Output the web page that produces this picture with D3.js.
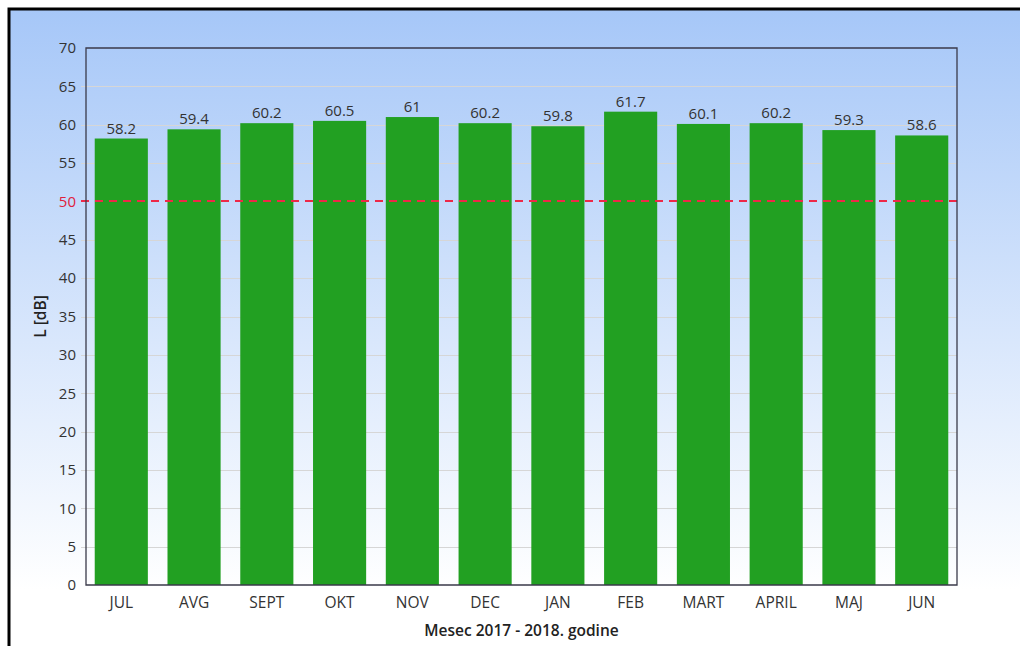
<!DOCTYPE html>
<html><head><meta charset="utf-8">
<script src="https://cdn.jsdelivr.net/npm/d3@7"></script>
<style>body{margin:0;background:#fff;}svg{display:block;font-family:"Open Sans",sans-serif;}</style>
</head><body><svg id="c" width="1020" height="646"></svg>
<script>
const categories = ["JUL","AVG","SEPT","OKT","NOV","DEC","JAN","FEB","MART","APRIL","MAJ","JUN"];
const values = [58.2,59.4,60.2,60.5,61,60.2,59.8,61.7,60.1,60.2,59.3,58.6];
const yTicks = [0,5,10,15,20,25,30,35,40,45,50,55,60,65,70];
const limitValue = 50;
const xTitle = "Mesec 2017 - 2018. godine";
const yTitle = "L [dB]";

const svg = d3.select("#c");
const defs = svg.append("defs");
const g1 = defs.append("linearGradient").attr("id","bg").attr("x1",0).attr("y1",0).attr("x2",0).attr("y2",1);
g1.append("stop").attr("offset","0%").attr("stop-color","#a6c7f8");
g1.append("stop").attr("offset","88%").attr("stop-color","#ffffff");
svg.append("rect").attr("x",0).attr("y",0).attr("width",1020).attr("height",646).attr("fill","#fff");
svg.append("rect").attr("x",9).attr("y",9).attr("width",1030).attr("height",660).attr("fill","url(#bg)")
  .attr("stroke","#000").attr("stroke-width",3);

const m = {l:86, t:48, r:957, b:585};
const x = d3.scaleBand().domain(categories).range([m.l,m.r]).paddingInner(0.27).paddingOuter(0.12);
const y = d3.scaleLinear().domain([0,70]).range([m.b,m.t]);

// gridlines
svg.append("g").selectAll("line").data(yTicks.filter(d=>d>0&&d<70)).join("line")
  .attr("x1",m.l-5).attr("x2",m.r).attr("y1",d=>Math.round(y(d))+0.5).attr("y2",d=>Math.round(y(d))+0.5)
  .attr("stroke",d=>d===limitValue?"none":"#d6d6d6").attr("stroke-width",1);

// bars
svg.append("g").selectAll("rect").data(values).join("rect")
  .attr("x",(d,i)=>x(categories[i])).attr("width",x.bandwidth())
  .attr("y",d=>y(d)).attr("height",d=>y(0)-y(d)).attr("fill","#22a022");

// limit line
svg.append("line").attr("x1",m.l-5).attr("x2",m.r)
  .attr("y1",Math.round(y(limitValue))).attr("y2",Math.round(y(limitValue)))
  .attr("stroke","#ee2848").attr("stroke-width",1.8)
  .attr("stroke-dasharray","8,6");

// value labels
svg.append("g").selectAll("text").data(values).join("text")
  .attr("x",(d,i)=>x(categories[i])+x.bandwidth()/2).attr("y",d=>y(d)-5)
  .attr("text-anchor","middle").attr("font-size",15).attr("fill","#333")
  .text(d=>d);

// plot frame
svg.append("path").attr("d",`M${m.l},${m.t}H${m.r}V${m.b}H${m.l}Z`).attr("fill","none")
  .attr("stroke","#3a3a4a").attr("stroke-width",1.3);

// y axis
const yAxis = d3.axisLeft(y).tickValues(yTicks).tickSize(0).tickPadding(10);
const ya = svg.append("g").attr("transform",`translate(${m.l},0)`).call(yAxis);
ya.select(".domain").remove();
ya.selectAll("text").attr("font-size",15).attr("font-family","Open Sans, sans-serif")
  .attr("fill",d=>d===limitValue?"#e0203c":"#333");

// x axis
const xAxis = d3.axisBottom(x).tickSize(0).tickPadding(12);
const xa = svg.append("g").attr("transform",`translate(0,${m.b})`).call(xAxis);
xa.select(".domain").remove();
xa.selectAll("text").attr("font-size",15.5).attr("font-family","Open Sans, sans-serif").attr("fill","#333");

// titles
svg.append("text").attr("x",(m.l+m.r)/2).attr("y",636).attr("text-anchor","middle")
  .attr("font-size",15.5).attr("font-weight",600).attr("fill","#222").text(xTitle);
svg.append("text").attr("transform",`translate(46,${(m.t+m.b)/2}) rotate(-90)`).attr("text-anchor","middle")
  .attr("font-size",15.5).attr("font-weight",600).attr("fill","#222").text(yTitle);
</script></body></html>
